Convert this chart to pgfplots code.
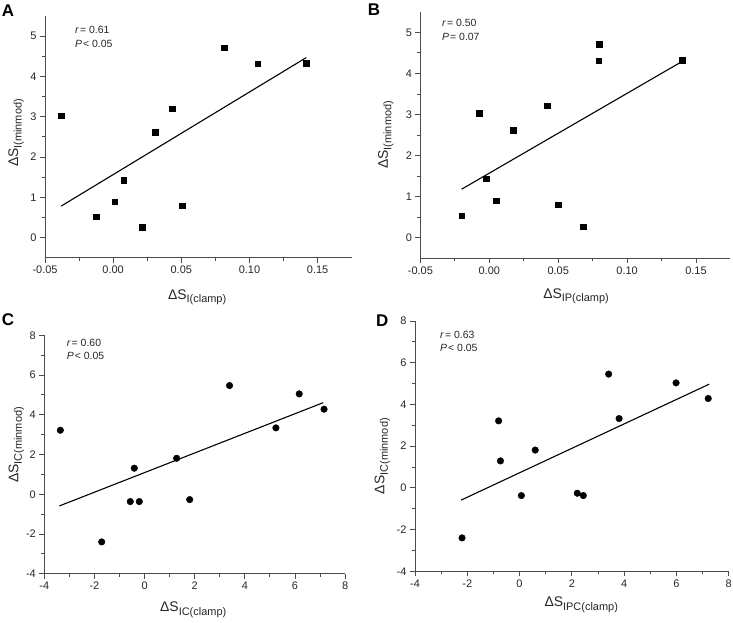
\documentclass[border=0pt]{standalone}
\usepackage{fontspec}
\setmainfont{Liberation Sans}
\usepackage{pgfplots}
\pgfplotsset{compat=1.18}

\newcommand\lab[1]{ΔS\raisebox{-3.5bp}{\fontsize{11}{11}\selectfont #1}}

\pgfplotsset{
 panel/.style={
  scale only axis,
  axis x line=bottom, axis y line=left,
  axis line style={-, black!70, line width=0.8bp},
  tick align=outside,
  major tick length=5bp, minor tick length=3bp,
  tick style={black!70, line width=0.8bp},
  minor x tick num=1, minor y tick num=1,
  tick label style={font=\fontsize{11}{12}\selectfont, text=black!85},
  /pgf/number format/assume math mode=true,
  clip=false,
  label style={font=\fontsize{14}{14}\selectfont, text=black!85},
 },
 smallx/.style={
  xmin=-0.05, xmax=0.175, ymin=-0.5, ymax=5.5,
  xtick={-0.05,0,0.05,0.1,0.15}, ytick={0,1,2,3,4,5},
  xticklabel style={/pgf/number format/.cd, fixed, fixed zerofill, precision=2},
 },
 bigx/.style={
  xmin=-4, xmax=8, ymin=-4, ymax=8,
  xtick={-4,-2,0,2,4,6,8}, ytick={-4,-2,0,2,4,6,8},
 },
}

\pgfplotstableread{
x y
-0.0382 3.03
-0.0125 0.52
0.0010 0.89
0.0077 1.43
0.0212 0.26
0.0310 2.62
0.0433 3.20
0.0506 0.79
0.0815 4.72
0.1060 4.32
0.1417 4.33
}\dataA
\pgfplotstableread{
x y
-0.0201 0.53
-0.0075 3.03
-0.0022 1.44
0.0049 0.90
0.0174 2.62
0.0419 3.21
0.0500 0.80
0.0680 0.27
0.0799 4.71
0.0794 4.31
0.1399 4.32
}\dataB
\pgfplotstableread{
x y
-3.36 3.22
-1.71 -2.40
-0.57 -0.37
-0.41 1.31
-0.21 -0.37
1.28 1.81
1.80 -0.27
3.39 5.47
5.24 3.34
6.17 5.05
7.16 4.28
}\dataC
\pgfplotstableread{
x y
-2.20 -2.40
-0.80 3.21
-0.73 1.29
0.07 -0.37
0.60 1.81
2.21 -0.26
2.44 -0.37
3.41 5.45
3.81 3.32
5.99 5.03
7.22 4.28
}\dataD

\begin{document}
\begin{tikzpicture}
\useasboundingbox (0bp,0bp) rectangle (733bp,623bp);

% A
\begin{axis}[panel, smallx, at={(45bp,365.3bp)}, anchor=south west,
  width=306.7bp, height=241.6bp,
  xlabel={\lab{I(clamp)}}, ylabel={\lab{I(minmod)}},
  xlabel style={at={(axis description cs:0.496,-0.172)}, anchor=base},
  ylabel style={at={(axis description cs:-0.088,0.516)}, anchor=base}]
\addplot[only marks, mark=square*, mark size=2.8bp, black] table {\dataA};
\addplot[black, line width=1.1bp] coordinates {(-0.0382,0.78) (0.1417,4.47)};
\end{axis}

% B
\begin{axis}[panel, smallx, at={(420.4bp,364.8bp)}, anchor=south west,
  width=310bp, height=246.4bp,
  xlabel={\lab{IP(clamp)}}, ylabel={\lab{I(minmod)}},
  xlabel style={at={(axis description cs:0.502,-0.163)}, anchor=base},
  ylabel style={at={(axis description cs:-0.105,0.5)}, anchor=base}]
\addplot[only marks, mark=square*, mark size=2.8bp, black] table {\dataB};
\addplot[black, line width=1.1bp] coordinates {(-0.0201,1.18) (0.1399,4.29)};
\end{axis}

% C
\begin{axis}[panel, bigx, at={(44.3bp,49.3bp)}, anchor=south west,
  width=300.8bp, height=238.4bp,
  xlabel={\lab{IC(clamp)}}, ylabel={\lab{IC(minmod)}},
  xlabel style={at={(axis description cs:0.495,-0.159)}, anchor=base},
  ylabel style={at={(axis description cs:-0.086,0.54)}, anchor=base}]
\addplot[only marks, mark=*, mark size=3.3bp, black] table {\dataC};
\addplot[black, line width=1.1bp] coordinates {(-3.40,-0.59) (7.13,4.61)};
\end{axis}

% D
\begin{axis}[panel, bigx, at={(415bp,51.7bp)}, anchor=south west,
  width=313.6bp, height=250.4bp,
  xlabel={\lab{IPC(clamp)}}, ylabel={\lab{IC(minmod)}},
  xlabel style={at={(axis description cs:0.53,-0.141)}, anchor=base},
  ylabel style={at={(axis description cs:-0.098,0.46)}, anchor=base}]
\addplot[only marks, mark=*, mark size=3.3bp, black] table {\dataD};
\addplot[black, line width=1.1bp] coordinates {(-2.24,-0.59) (7.26,4.97)};
\end{axis}

% annotations
\begin{scope}[every node/.style={anchor=base west, inner sep=0pt, text=black!85, font=\fontsize{10.5}{11}\selectfont}]
\node at (75bp,589bp) {\textit{r}\hspace{1pt}= 0.61};
\node at (75bp,575bp) {\textit{P}\hspace{1pt}< 0.05};
\node at (442bp,596.3bp) {\textit{r}\hspace{1pt}= 0.50};
\node at (442bp,582bp) {\textit{P}\hspace{1pt}= 0.07};
\node at (66.7bp,276.3bp) {\textit{r}\hspace{1pt}= 0.60};
\node at (66.7bp,263bp) {\textit{P}\hspace{1pt}< 0.05};
\node at (440bp,284.7bp) {\textit{r}\hspace{1pt}= 0.63};
\node at (440bp,271.3bp) {\textit{P}\hspace{1pt}< 0.05};
\end{scope}
\begin{scope}[every node/.style={anchor=north west, inner sep=0pt, font=\bfseries\fontsize{17}{17}\selectfont}]
\node at (1.7bp,618bp) {A};
\node at (367.7bp,619bp) {B};
\node at (1.7bp,309.7bp) {C};
\node at (376bp,308bp) {D};
\end{scope}
\end{tikzpicture}
\end{document}
